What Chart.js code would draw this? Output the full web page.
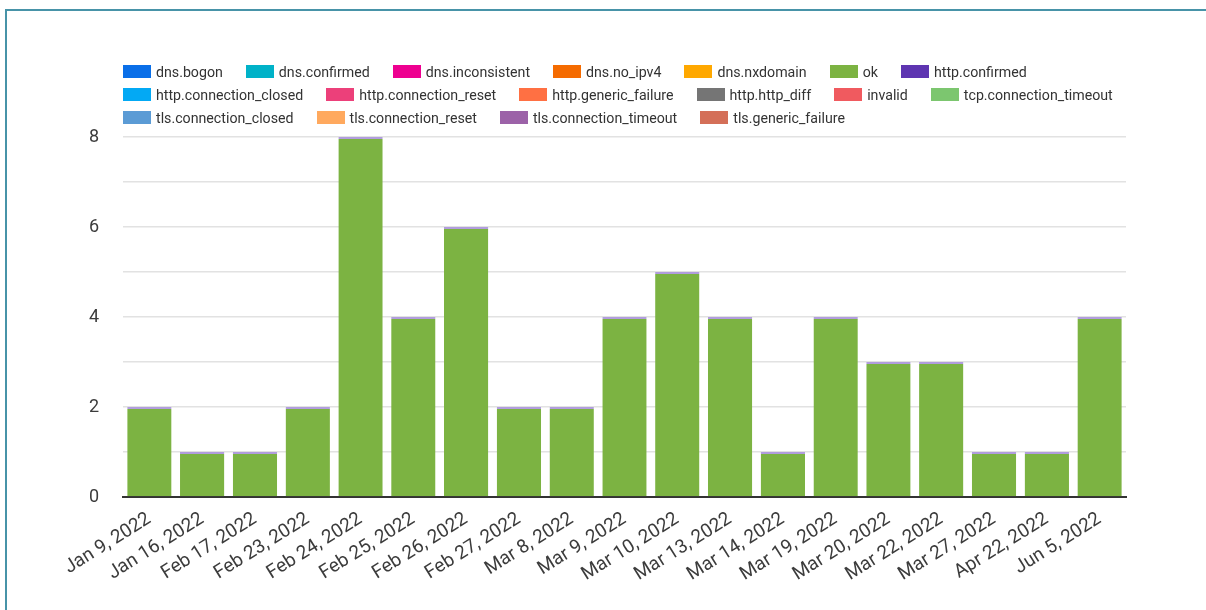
<!DOCTYPE html>
<html>
<head>
<meta charset="utf-8">
<script src="https://cdn.jsdelivr.net/npm/chart.js@4/dist/chart.umd.min.js"></script>
<style>
  body { margin: 0; background: #fff; font-family: Roboto, sans-serif; }
  #wrap { position: relative; width: 1206px; height: 610px; overflow: hidden; }
  #frame { position: absolute; left: 5px; top: 9px; right: -5px; bottom: -5px;
           border-left: 2px solid #4793a8; border-top: 2px solid #4793a8; }
  #chart { position: absolute; left: 0; top: 0; }
  #legend { position: absolute; left: 123px; top: 60px; width: 1040px;
            display: flex; flex-wrap: wrap; font-size: 14.2px; color: #333; }
  .item { display: flex; align-items: center; height: 23px; margin-right: 23px; }
  .box { width: 28px; height: 13px; margin-right: 5px; }
</style>
</head>
<body>
<div id="wrap">
  <div id="frame"></div>
  <canvas id="chart" width="1206" height="610"></canvas>
  <div id="legend"></div>
</div>
<script>
const categories = [
  "Jan 9, 2022", "Jan 16, 2022", "Feb 17, 2022", "Feb 23, 2022", "Feb 24, 2022",
  "Feb 25, 2022", "Feb 26, 2022", "Feb 27, 2022", "Mar 8, 2022", "Mar 9, 2022",
  "Mar 10, 2022", "Mar 13, 2022", "Mar 14, 2022", "Mar 19, 2022", "Mar 20, 2022",
  "Mar 22, 2022", "Mar 27, 2022", "Apr 22, 2022", "Jun 5, 2022"
];
const okValues = [2, 1, 1, 2, 8, 4, 6, 2, 2, 4, 5, 4, 1, 4, 3, 3, 1, 1, 4];
const seriesNames = [
  "dns.bogon", "dns.confirmed", "dns.inconsistent", "dns.no_ipv4", "dns.nxdomain",
  "ok", "http.confirmed", "http.connection_closed", "http.connection_reset",
  "http.generic_failure", "http.http_diff", "invalid", "tcp.connection_timeout",
  "tls.connection_closed", "tls.connection_reset", "tls.connection_timeout",
  "tls.generic_failure"
];
const seriesColors = [
  "#0a6fe8", "#00b2c8", "#ee0090", "#f56b00", "#ffa800",
  "#7cb342", "#5e35b1", "#03a9f4", "#ec407a",
  "#ff7043", "#757575", "#f05a5f", "#7cc66f",
  "#5b9bd5", "#ffa95e", "#9c62a8",
  "#d46f58"
];
const yTicks = [0, 2, 4, 6, 8];

const datasets = seriesNames.map((name, i) => ({
  label: name,
  data: name === "ok" ? okValues : [],
  backgroundColor: seriesColors[i],
  borderColor: "#b19ddd",
  borderWidth: name === "ok" ? { top: 2, left: 0, right: 0, bottom: 0 } : 0,
  borderSkipped: false,
  barPercentage: 0.84,
  categoryPercentage: 1,
}));

const ctx = document.getElementById("chart").getContext("2d");
new Chart(ctx, {
  type: "bar",
  data: { labels: categories, datasets: datasets },
  options: {
    responsive: false,
    animation: false,
    layout: { padding: { top: 137, right: 80, left: 0, bottom: 0 } },
    plugins: { legend: { display: false }, tooltip: { enabled: false } },
    scales: {
      x: {
        stacked: true,
        afterFit: (s) => { s.height = 113; },
        grid: { display: false },
        border: { color: "#333", width: 2 },
        ticks: {
          minRotation: 32, maxRotation: 32, autoSkip: false,
          color: "#3c3c3c", padding: 3,
          font: { family: "Roboto", size: 19 },
        },
      },
      y: {
        stacked: true,
        min: 0, max: 8,
        afterFit: (s) => { s.width = 123; },
        border: { display: false },
        grid: { color: "#e2e2e2", lineWidth: 1.5, drawTicks: false },
        ticks: {
          stepSize: 1, padding: 24, color: "#3c3c3c",
          font: { family: "Roboto", size: 18 },
          callback: (v) => (yTicks.includes(v) ? v : ""),
        },
      },
    },
  },
});

// html legend, so the item spacing matches
const legend = document.getElementById("legend");
seriesNames.forEach((name, i) => {
  const item = document.createElement("div");
  item.className = "item";
  const box = document.createElement("span");
  box.className = "box";
  box.style.background = seriesColors[i];
  item.appendChild(box);
  item.appendChild(document.createTextNode(name));
  legend.appendChild(item);
});
</script>
</body>
</html>
